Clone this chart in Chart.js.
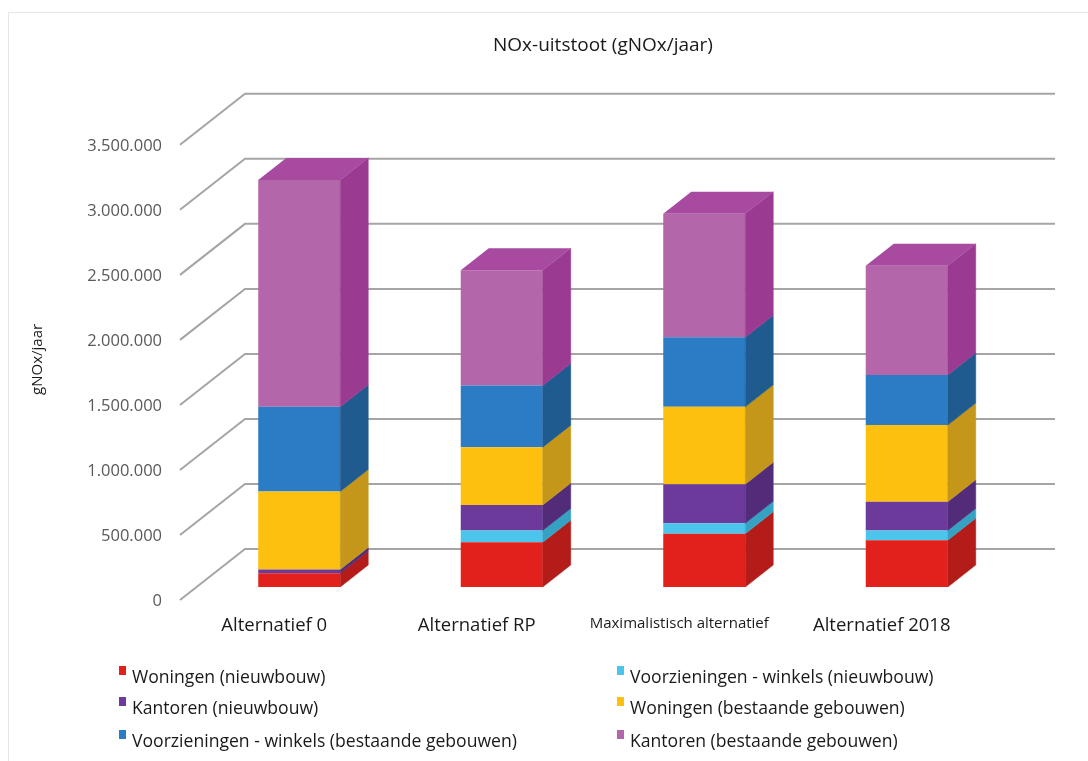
<!DOCTYPE html>
<html>
<head>
<meta charset="utf-8">
<script src="https://cdn.jsdelivr.net/npm/chart.js@4.4.1/dist/chart.umd.min.js"></script>
<style>
  html, body { margin: 0; padding: 0; background: #fff; }
  #wrap { position: relative; width: 1088px; height: 761px; overflow: hidden; }
  #frame { position: absolute; left: 8px; top: 12px; width: 1100px; height: 770px; border: 1px solid #e6e6e6; }
  canvas { position: absolute; left: 0; top: 0; }
  #legend { position: absolute; left: 0; top: 0; width: 1088px; height: 761px; pointer-events: none;
            font-family: 'Open Sans', sans-serif; font-size: 17.6px; color: #1a1a1a; }
  .item { position: absolute; white-space: nowrap; line-height: 20px; }
  .sw { position: absolute; width: 7px; height: 9px; left: -13px; top: 0px; }
</style>
</head>
<body>
<div id="wrap">
  <div id="frame"></div>
  <canvas id="c" width="1088" height="761"></canvas>
  <div id="legend"></div>
</div>
<script>
// Scenarios on the category axis
const categories = ['Alternatief 0', 'Alternatief RP', 'Maximalistisch alternatief', 'Alternatief 2018'];

// NOx emissions per source (g NOx / year), stacked from bottom to top
const woningenNieuwbouw        = [105000, 345000, 410000, 360000];
const voorzieningenNieuwbouw   = [0, 90000, 80000, 75000];
const kantorenNieuwbouw        = [30000, 195000, 300000, 220000];
const woningenBestaand         = [600000, 445000, 595000, 590000];
const voorzieningenBestaand    = [650000, 475000, 535000, 385000];
const kantorenBestaand         = [1745000, 885000, 950000, 840000];

const seriesNames = [
  'Woningen (nieuwbouw)',
  'Voorzieningen - winkels (nieuwbouw)',
  'Kantoren (nieuwbouw)',
  'Woningen (bestaande gebouwen)',
  'Voorzieningen - winkels (bestaande gebouwen)',
  'Kantoren (bestaande gebouwen)'
];
const seriesValues = [woningenNieuwbouw, voorzieningenNieuwbouw, kantorenNieuwbouw,
                      woningenBestaand, voorzieningenBestaand, kantorenBestaand];

// Value axis
const yMin = 0, yMax = 3500000, yStep = 500000;

// Face colours: front, side, top
const frontColors = ['#e3211c', '#4cc5ec', '#6c3a9a', '#fdc00f', '#2b7cc4', '#b466aa'];
const sideColors  = ['#b41c19', '#35a2c4', '#522c78', '#c4961a', '#1f5b8e', '#9b3a91'];
const topColors   = ['#c9201b', '#42b3da', '#5e3388', '#dfab12', '#2569a6', '#a84aa0'];

// Oblique projection offsets (pixels)
const BAR_DEPTH = { dx: 28, dy: -22 };
const FLOOR_FRONT = { dx: -18, dy: 13 };
const BACK_WALL = { dx: 47, dy: -38 };

function formatThousands(v) {
  return String(v).replace(/\B(?=(\d{3})+(?!\d))/g, '.');
}

// Draws the receding gridlines behind the bars and the side/top faces of each bar
const obliqueBars = {
  id: 'obliqueBars',
  beforeDatasetsDraw(chart) {
    const { ctx, chartArea: a, scales: { y } } = chart;
    ctx.save();
    ctx.strokeStyle = '#a5a5a5';
    ctx.lineWidth = 2;
    y.ticks.forEach(t => {
      const py = y.getPixelForValue(t.value);
      ctx.beginPath();
      ctx.moveTo(a.left + FLOOR_FRONT.dx, py + FLOOR_FRONT.dy);
      ctx.lineTo(a.left + BACK_WALL.dx, py + BACK_WALL.dy);
      ctx.lineTo(a.right + BACK_WALL.dx, py + BACK_WALL.dy);
      ctx.stroke();
    });
    ctx.restore();
  },
  afterDatasetsDraw(chart) {
    const { ctx } = chart;
    const { dx, dy } = BAR_DEPTH;
    ctx.save();
    const topSeg = [];
    chart.data.datasets.forEach((ds, i) => {
      const meta = chart.getDatasetMeta(i);
      meta.data.forEach((bar, j) => {
        const { x, y, base, width } = bar.getProps(['x', 'y', 'base', 'width'], true);
        if (Math.abs(base - y) < 0.01) return;
        const r = x + width / 2;
        ctx.fillStyle = sideColors[i];
        ctx.strokeStyle = sideColors[i];
        ctx.lineWidth = 0.5;
        ctx.beginPath();
        ctx.moveTo(r, base);
        ctx.lineTo(r + dx, base + dy);
        ctx.lineTo(r + dx, y + dy);
        ctx.lineTo(r, y);
        ctx.closePath();
        ctx.fill();
        ctx.stroke();
        topSeg[j] = { i, x, y, width };
      });
    });
    topSeg.forEach(s => {
      if (!s) return;
      const l = s.x - s.width / 2, r = s.x + s.width / 2;
      ctx.fillStyle = topColors[s.i];
      ctx.beginPath();
      ctx.moveTo(l, s.y);
      ctx.lineTo(l + dx, s.y + dy);
      ctx.lineTo(r + dx, s.y + dy);
      ctx.lineTo(r, s.y);
      ctx.closePath();
      ctx.fill();
    });
    ctx.restore();
  }
};

const FONT = "'Open Sans', sans-serif";

const chart = new Chart(document.getElementById('c'), {
  type: 'bar',
  data: {
    labels: categories,
    datasets: seriesNames.map((name, i) => ({
      label: name,
      data: seriesValues[i],
      backgroundColor: frontColors[i],
      borderWidth: 0,
      categoryPercentage: 1,
      barPercentage: 0.405
    }))
  },
  options: {
    responsive: false,
    animation: false,
    devicePixelRatio: 1,
    layout: { padding: { left: 0, right: 80, top: 0, bottom: 114 } },
    plugins: {
      legend: { display: false },
      tooltip: { enabled: false },
      title: {
        display: true,
        fullSize: false,
        text: 'NOx-uitstoot (gNOx/jaar)',
        color: '#1a1a1a',
        font: { family: FONT, size: 19, weight: 'normal' },
        padding: { top: 34, bottom: 75 }
      }
    },
    scales: {
      x: {
        stacked: true,
        grid: { display: false, drawTicks: false },
        border: { display: false },
        ticks: {
          color: '#1a1a1a',
          padding: 28,
          labelOffset: -25,
          maxRotation: 0,
          autoSkip: false,
          font: ctx => ({ family: FONT, size: ctx.index === 2 ? 15 : 18.5 })
        },
        afterFit: s => { s.height = 60; }
      },
      y: {
        stacked: true,
        min: yMin,
        max: yMax,
        grid: { display: false, drawTicks: false },
        border: { display: false },
        ticks: {
          stepSize: yStep,
          color: '#595959',
          padding: 36,
          labelOffset: 14,
          font: { family: FONT, size: 16.5 },
          callback: v => formatThousands(v)
        },
        title: {
          display: true,
          text: 'gNOx/jaar',
          color: '#1a1a1a',
          font: { family: FONT, size: 15 },
          padding: { top: 29, bottom: 0 }
        },
        afterFit: s => { s.width = 198; }
      }
    }
  },
  plugins: [obliqueBars]
});

// Two-column legend built from the chart's datasets
(function buildLegend() {
  const box = document.getElementById('legend');
  const colX = [132, 630];
  const rowY = [666, 697, 730];
  chart.data.datasets.forEach((ds, i) => {
    const item = document.createElement('div');
    item.className = 'item';
    item.style.left = colX[i % 2] + 'px';
    item.style.top = rowY[Math.floor(i / 2)] + 'px';
    const sw = document.createElement('span');
    sw.className = 'sw';
    sw.style.background = ds.backgroundColor;
    item.appendChild(sw);
    item.appendChild(document.createTextNode(ds.label));
    box.appendChild(item);
  });
})();
</script>
</body>
</html>
